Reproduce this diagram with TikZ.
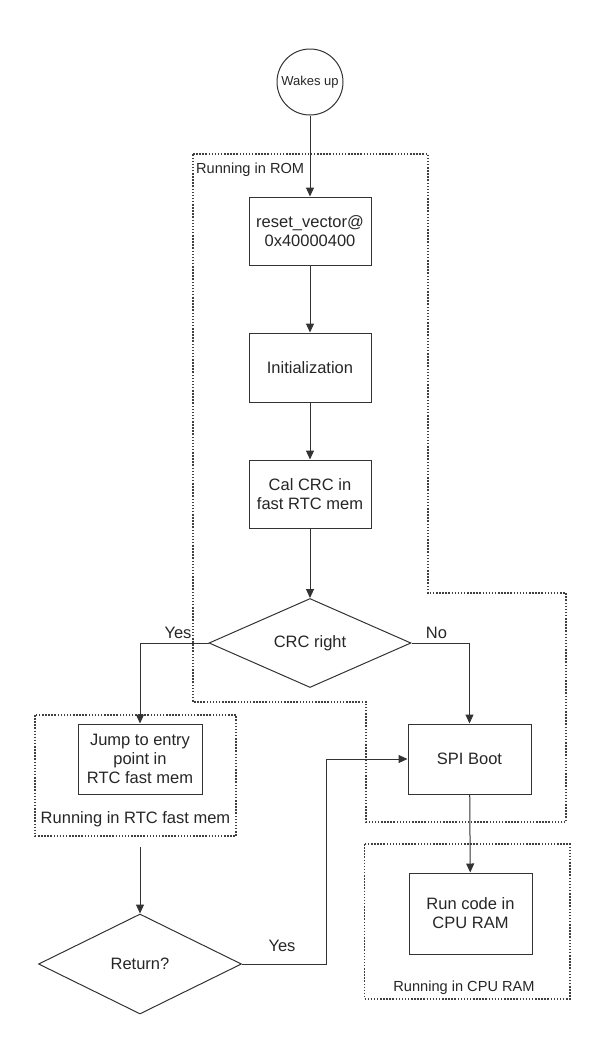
\documentclass[tikz,border=0pt]{standalone}
\usepackage{fontspec}
\setmainfont{Liberation Sans}
\usetikzlibrary{shapes.geometric,arrows.meta}
\begin{document}
\begin{tikzpicture}[x=1pt,y=-1pt,
 every node/.style={font=\fontsize{16.5}{19}\selectfont, text=black!85},
 box/.style={draw=black!80, line width=1pt, rectangle, minimum width=122pt, minimum height=68pt, inner sep=2pt, align=center},
 dec/.style={draw=black!80, line width=1pt, diamond, aspect=2.3, inner sep=0pt, minimum width=202pt, minimum height=89pt},
 arr/.style={draw=black!80, line width=1pt, -{Triangle[length=9pt,width=8pt]}},
 region/.style={draw=black!75, line width=1.2pt, dash pattern=on 1.5pt off 1.6pt},
 lbl/.style={font=\fontsize{14.6}{17}\selectfont}
]
\useasboundingbox (0,0) rectangle (597,1047);

% regions
\draw[region] (193,154) -- (428,154) -- (428,593) -- (566,593) -- (566,822) -- (366,822) -- (366,702) -- (193,702) -- cycle;
\node[lbl, anchor=west, inner sep=0pt] (romlbl) at (196,170) {Running in ROM};
\draw[region] (35,715) rectangle (236,836);
\node[anchor=center, inner sep=0pt, font=\fontsize{16.5}{19}\selectfont] (rtclbl) at (135.5,819) {Running in RTC fast mem};
\draw[region] (364.5,844) rectangle (570,999);
\node[lbl, anchor=center, inner sep=0pt] (cpulbl) at (464,988) {Running in CPU RAM};

% nodes
\node[draw=black!80, line width=1pt, circle, minimum size=66pt, inner sep=0pt, font=\fontsize{13}{15}\selectfont] (wake) at (310,82) {Wakes up};
\node[box] (reset) at (310,231) {reset\_vector@\\0x40000400};
\node[box, minimum height=69pt] (init) at (310,367.5) {Initialization};
\node[box] (cal) at (310,494) {Cal CRC in\\fast RTC mem};
\node[dec] (crc) at (310,643) {CRC right};
\node[box, minimum width=124pt, minimum height=70pt] (jump) at (140,759) {Jump to entry\\point in\\RTC fast mem};
\node[box, minimum width=123pt, minimum height=70pt] (spi) at (469.5,759) {SPI Boot};
\node[dec, minimum width=203pt, minimum height=100pt, aspect=2] (ret) at (140,964) {Return?};
\node[box, minimum width=123pt, minimum height=81pt] (run) at (470.5,913.5) {Run code in\\CPU RAM};
\coordinate (jret) at (140,847);
\coordinate (bend) at (326,964);

% connectors
\draw[arr] (wake) -- (reset);
\draw[arr] (reset) -- (init);
\draw[arr] (init) -- (cal);
\draw[arr] (cal) -- (crc);
\draw[arr] (crc.west) -| (jump.north);
\draw[arr] (crc.east) -| (spi.north);
\draw[arr] (jret) -- (ret.north);
\draw[arr] (ret.east) -- (bend) |- (spi.west);
\draw[arr] (spi) -- (run);

% labels
\node (yes1) at (178,633) {Yes};
\node (no1) at (436.5,633) {No};
\node (yes2) at (282,946) {Yes};
\end{tikzpicture}
\end{document}
